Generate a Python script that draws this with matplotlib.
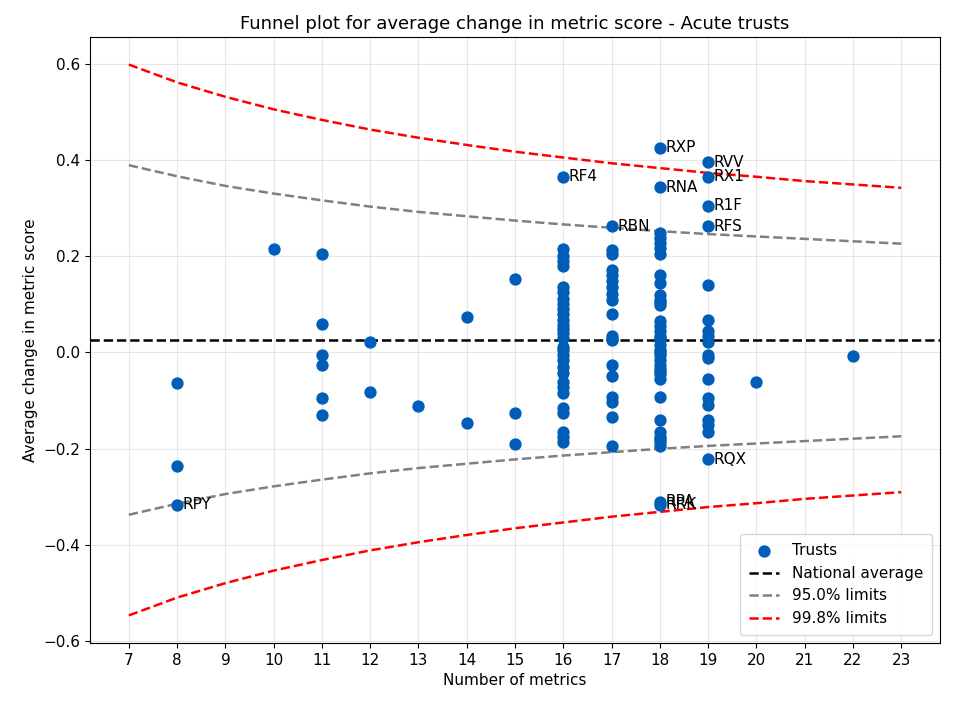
import numpy as np
import matplotlib
matplotlib.use('Agg')
import matplotlib.pyplot as plt

# average change per trust, grouped by number of metrics
col_8 = [-0.064, -0.235, -0.316]
col_10 = [0.215]
col_11 = [0.205, 0.059, -0.005, -0.026, -0.094, -0.129]
col_12 = [0.022, -0.083]
col_13 = [-0.112]
col_14 = [0.073, -0.147]
col_15 = [0.152, -0.125, -0.190]
col_16 = [0.365, 0.215, 0.200, 0.190, 0.180, 0.135, 0.125, 0.112, 0.100, 0.090,
          0.080, 0.068, 0.058, 0.048, 0.040, 0.030, 0.012, 0.005, -0.005, -0.015,
          -0.030, -0.042, -0.062, -0.072, -0.085, -0.115, -0.125, -0.165, -0.175, -0.185]
col_17 = [0.262, 0.213, 0.205, 0.172, 0.160, 0.148, 0.135, 0.122, 0.110, 0.080,
          0.035, 0.028, 0.025, -0.025, -0.048, -0.092, -0.102, -0.133, -0.195]
col_18 = [0.425, 0.343, 0.248, 0.238, 0.228, 0.218, 0.205, 0.160, 0.145, 0.120,
          0.110, 0.105, 0.098, 0.065, 0.055, 0.045, 0.035, 0.030, 0.025, 0.015,
          0.005, 0.000, -0.005, -0.015, -0.025, -0.035, -0.040, -0.045, -0.055, -0.092,
          -0.140, -0.165, -0.175, -0.180, -0.185, -0.195, -0.310, -0.316]
col_19 = [0.395, 0.365, 0.305, 0.262, 0.141, 0.068, 0.044, 0.035, 0.022, -0.005,
          -0.012, -0.055, -0.095, -0.108, -0.140, -0.150, -0.165, -0.222]
col_20 = [-0.062]
col_22 = [-0.008]
columns = {8: col_8, 10: col_10, 11: col_11, 12: col_12, 13: col_13, 14: col_14,
           15: col_15, 16: col_16, 17: col_17, 18: col_18, 19: col_19, 20: col_20, 22: col_22}

labels = {(8, -0.316): 'RPY', (16, 0.365): 'RF4', (17, 0.262): 'RBN',
          (18, 0.425): 'RXP', (18, 0.343): 'RNA', (18, -0.310): 'RPA', (18, -0.316): 'RRK',
          (19, 0.395): 'RVV', (19, 0.365): 'RX1', (19, 0.305): 'R1F', (19, 0.262): 'RFS',
          (19, -0.222): 'RQX'}

national_avg = 0.026
limit_n = list(range(7, 24))
upper_998 = [0.598, 0.561, 0.531, 0.505, 0.483, 0.463, 0.446, 0.431, 0.417, 0.405, 0.393, 0.383, 0.373, 0.365, 0.356, 0.349, 0.342]
lower_998 = [-0.546, -0.509, -0.479, -0.453, -0.431, -0.411, -0.394, -0.379, -0.365, -0.353, -0.341, -0.331, -0.321, -0.313, -0.304, -0.297, -0.290]
upper_95 = [0.389, 0.366, 0.346, 0.330, 0.316, 0.303, 0.292, 0.283, 0.274, 0.266, 0.259, 0.252, 0.246, 0.241, 0.236, 0.231, 0.226]
lower_95 = [-0.337, -0.314, -0.294, -0.278, -0.264, -0.251, -0.240, -0.231, -0.222, -0.214, -0.207, -0.200, -0.194, -0.189, -0.184, -0.179, -0.174]

n_metrics = []
avg_change = []
for n, vals in columns.items():
    n_metrics += [n] * len(vals)
    avg_change += vals

plt.rcParams['font.size'] = 11
fig, ax = plt.subplots(figsize=(9.6, 7.12), dpi=100)
fig.subplots_adjust(left=0.094, right=0.979, top=0.948, bottom=0.097)

ax.scatter(n_metrics, avg_change, s=62, color='#005EB8', label='Trusts', zorder=3)
ax.axhline(national_avg, color='black', linestyle='--', linewidth=1.8, label='National average')
ax.plot(limit_n, upper_95, color='grey', linestyle='--', linewidth=1.8, label='95.0% limits')
ax.plot(limit_n, lower_95, color='grey', linestyle='--', linewidth=1.8)
ax.plot(limit_n, upper_998, color='red', linestyle='--', linewidth=1.8, label='99.8% limits')
ax.plot(limit_n, lower_998, color='red', linestyle='--', linewidth=1.8)

for (n, v), code in labels.items():
    ax.annotate(code, (n, v), xytext=(4, 0), textcoords='offset points', va='center', fontsize=11)

ax.set_xticks(limit_n)
ax.grid(True, alpha=0.3)
ax.set_xlabel('Number of metrics')
ax.set_ylabel('Average change in metric score')
ax.set_title('Funnel plot for average change in metric score - Acute trusts', fontsize=13)
ax.legend(loc='lower right', borderpad=0.6)

plt.savefig('out.png')
